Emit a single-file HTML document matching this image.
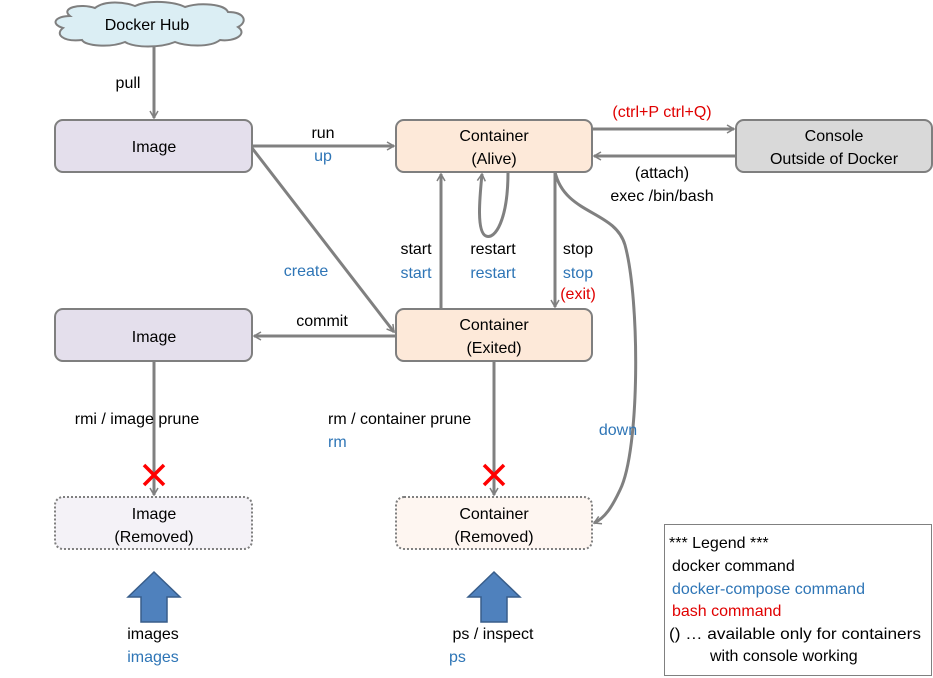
<!DOCTYPE html>
<html><head><meta charset="utf-8"><style>
html,body{margin:0;padding:0;background:#fff}
svg{display:block}
text{font-family:"Liberation Sans",sans-serif;font-size:16px;fill:#000}
.b{fill:#2e75b6}.r{fill:#e00000}
</style></head><body>
<svg width="933" height="678" viewBox="0 0 933 678" xmlns="http://www.w3.org/2000/svg">
<defs>
<marker id="a" markerWidth="10" markerHeight="10" refX="8" refY="5" orient="auto" markerUnits="userSpaceOnUse">
<path d="M1,1 L8,5 L1,9" fill="none" stroke="#808080" stroke-width="1.5"/></marker>
</defs>
<path d="M70,16 C60,8 80,3 95,8 C105,0 125,2 135,6 C150,-1 175,2 185,7 C200,2 225,4 228,12 C245,12 248,22 238,27 C248,34 235,42 220,40 C210,48 185,46 175,42 C160,48 135,48 125,42 C110,48 85,46 82,40 C62,42 55,34 63,28 C50,24 55,16 70,16 Z" fill="#dbeef4" stroke="#7f7f7f" stroke-width="2"/>
<text x="147" y="30" text-anchor="middle">Docker Hub</text>
<g stroke="#808080" stroke-width="3" fill="none">
<line x1="154" y1="46" x2="154" y2="118" marker-end="url(#a)"/>
<line x1="252" y1="146" x2="394" y2="146" marker-end="url(#a)"/>
<line x1="252" y1="148" x2="394" y2="332" marker-end="url(#a)"/>
<line x1="441" y1="309" x2="441" y2="174" marker-end="url(#a)"/>
<path d="M508,172 C508,220 495,240 486,236 C476,232 480,195 482,174" marker-end="url(#a)"/>
<line x1="555" y1="172" x2="555" y2="307" marker-end="url(#a)"/>
<line x1="592" y1="129" x2="734" y2="129" marker-end="url(#a)"/>
<line x1="736" y1="156" x2="594" y2="156" marker-end="url(#a)"/>
<line x1="396" y1="336" x2="254" y2="336" marker-end="url(#a)"/>
<path d="M555,172 C565,215 615,210 625,245 C640,300 640,450 620,490 C612,507 605,518 594,523" marker-end="url(#a)"/>
<line x1="154" y1="361" x2="154" y2="495" marker-end="url(#a)"/>
<line x1="494" y1="361" x2="494" y2="495" marker-end="url(#a)"/>
</g>
<g stroke="#ff0000" stroke-width="3.5">
<line x1="144" y1="465" x2="164" y2="485"/><line x1="164" y1="465" x2="144" y2="485"/>
<line x1="484" y1="465" x2="504" y2="485"/><line x1="504" y1="465" x2="484" y2="485"/>
</g>
<g stroke="#7f7f7f" stroke-width="2">
<rect x="55" y="120" width="197" height="52" rx="8" fill="#e4dfec"/>
<rect x="396" y="120" width="196" height="52" rx="8" fill="#fde9d9"/>
<rect x="736" y="120" width="196" height="52" rx="8" fill="#d9d9d9"/>
<rect x="55" y="309" width="197" height="52" rx="8" fill="#e4dfec"/>
<rect x="396" y="309" width="196" height="52" rx="8" fill="#fde9d9"/>
<rect x="55" y="497" width="197" height="52" rx="8" fill="#f4f2f7" stroke-dasharray="2,2"/>
<rect x="396" y="497" width="196" height="52" rx="8" fill="#fef6f1" stroke-dasharray="2,2"/>
</g>
<rect x="664.5" y="524.5" width="267" height="151" fill="#fff" stroke="#808080" stroke-width="1"/>
<g fill="#4f81bd" stroke="#385d8a" stroke-width="1.5">
<path d="M128,597 L154,572 L180,597 L167,597 L167,622 L141,622 L141,597 Z"/>
<path d="M468,597 L494,572 L520,597 L507,597 L507,622 L481,622 L481,597 Z"/>
</g>
<g text-anchor="middle">
<text x="154" y="152">Image</text>
<text x="494" y="141">Container</text><text x="494" y="164">(Alive)</text>
<text x="834" y="141">Console</text><text x="834" y="164">Outside of Docker</text>
<text x="154" y="342">Image</text>
<text x="494" y="330">Container</text><text x="494" y="353">(Exited)</text>
<text x="154" y="519">Image</text><text x="154" y="542">(Removed)</text>
<text x="494" y="519">Container</text><text x="494" y="542">(Removed)</text>
<text x="128" y="88">pull</text>
<text x="323" y="138">run</text><text x="323" y="161" class="b">up</text>
<text x="306" y="276" class="b">create</text>
<text x="416" y="254">start</text><text x="416" y="278" class="b">start</text>
<text x="493" y="254">restart</text><text x="493" y="278" class="b">restart</text>
<text x="578" y="254">stop</text><text x="578" y="278" class="b">stop</text><text x="578" y="299" class="r">(exit)</text>
<text x="662" y="117" class="r">(ctrl+P ctrl+Q)</text>
<text x="662" y="178">(attach)</text><text x="662" y="201">exec /bin/bash</text>
<text x="322" y="326">commit</text>
<text x="137" y="424">rmi / image prune</text>
<text x="618" y="435" class="b">down</text>
<text x="153" y="639">images</text><text x="153" y="662" class="b">images</text>
<text x="493" y="639">ps / inspect</text>
</g>
<text x="328" y="424">rm / container prune</text>
<text x="328" y="447" class="b">rm</text>
<text x="449" y="662" class="b">ps</text>
<text x="669" y="548">*** Legend ***</text>
<text x="672" y="571">docker command</text>
<text x="672" y="594" class="b">docker-compose command</text>
<text x="672" y="616" class="r">bash command</text>
<text x="669" y="639" textLength="252" lengthAdjust="spacingAndGlyphs">() … available only for containers</text>
<text x="710" y="661">with console working</text>
</svg>
</body></html>
